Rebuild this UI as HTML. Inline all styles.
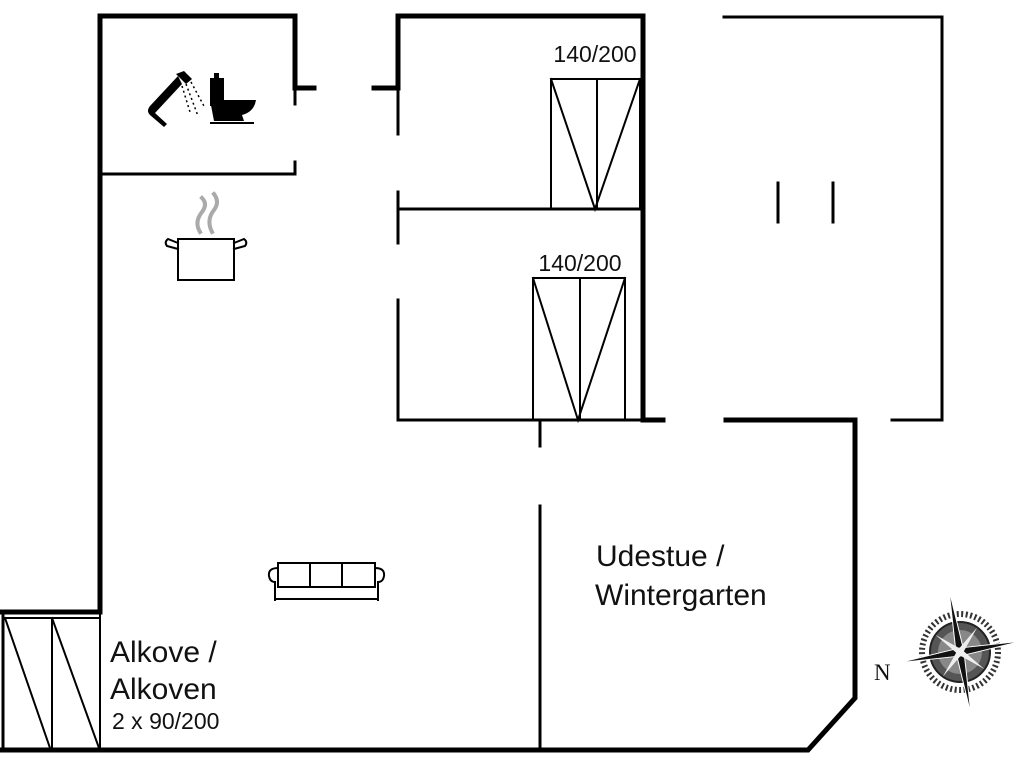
<!DOCTYPE html>
<html><head><meta charset="utf-8"><style>
html,body{margin:0;padding:0;background:#fff;}
svg{display:block;}
text{font-family:"Liberation Sans",sans-serif;fill:#111;}
</style></head><body>
<svg width="1024" height="768" viewBox="0 0 1024 768" xmlns="http://www.w3.org/2000/svg">
<g stroke="#000" fill="none" stroke-linecap="square">
<g stroke-width="5">
<polyline points="100,612 100,16 295,16 295,88 314,88"/>
<polyline points="374,88 398,88 398,16 643,16 643,420 663,420"/>
<polyline points="726,420 855,420 855,698 808,750 2,750"/>
<line x1="2" y1="612" x2="100" y2="612"/>
</g>
<g stroke-width="3">
<line x1="295" y1="88" x2="295" y2="104"/>
<polyline points="100,174 295,174 295,162"/>
<line x1="398" y1="88" x2="398" y2="134"/>
<line x1="398" y1="192" x2="398" y2="243"/>
<line x1="398" y1="209" x2="643" y2="209"/>
<line x1="398" y1="300" x2="398" y2="420"/>
<line x1="398" y1="420" x2="643" y2="420"/>
<polyline points="724,17 942,17 942,420 892,420"/>
<line x1="778" y1="183" x2="778" y2="222"/>
<line x1="833" y1="183" x2="833" y2="222"/>
<line x1="540" y1="420" x2="540" y2="446"/>
<line x1="540" y1="506" x2="540" y2="750"/>
<line x1="3" y1="612" x2="3" y2="750"/>
</g>
<g stroke-width="2">
<rect x="551" y="79" width="89" height="130"/>
<line x1="597" y1="79" x2="597" y2="209"/>
<polyline points="551,79 595,209 640,79"/>
<rect x="533" y="278" width="92" height="142"/>
<line x1="580" y1="278" x2="580" y2="420"/>
<polyline points="533,278 578,420 625,278"/>
<line x1="3" y1="618" x2="100" y2="618"/>
<line x1="52" y1="618" x2="52" y2="748"/>
<line x1="100" y1="612" x2="100" y2="748"/>
<line x1="5" y1="618" x2="50" y2="748"/>
<line x1="52" y1="618" x2="99" y2="748"/>
<rect x="278" y="563" width="97" height="24"/>
<line x1="310" y1="563" x2="310" y2="587"/>
<line x1="342" y1="563" x2="342" y2="587"/>
<path d="M278,568 q-10,0 -9,8 q1,6 6,6 v18 M375,568 q10,0 9,8 q-1,6 -6,6 v18 M275,599 h103"/>
<rect x="178" y="239" width="56" height="41"/>
<path d="M178,243 l-10,-4 q-4,3 -1,7 l11,3 M234,243 l10,-4 q4,3 1,7 l-11,3"/>
</g>
<path d="M200,232 q-6,-10 2,-20 q6,-8 0,-14 M212,232 q-6,-12 2,-22 q6,-8 0,-16" stroke="#aaa" stroke-width="4"/>
</g>
<g fill="#000">
<path d="M178,76 l-28,30 q-4,5 0,9 l14,12 l3,-3 l-12,-11 l27,-29 z"/>
<path d="M176,74 l8,-3 l8,8 l-6,5 z"/>
<rect x="210" y="78" width="14" height="28"/>
<rect x="214" y="73" width="5" height="6"/>
<path d="M210,100 h46 q-2,12 -14,15 l2,6 h-30 z"/>
<rect x="210" y="122" width="44" height="2"/>
</g>
<g stroke="#000" stroke-width="1.5" stroke-dasharray="2 3">
<line x1="186" y1="84" x2="198" y2="116"/><line x1="191" y1="82" x2="205" y2="108"/><line x1="182" y1="86" x2="190" y2="112"/>
</g>
<text x="595" y="62" font-size="23" text-anchor="middle">140/200</text>
<text x="580" y="271" font-size="23" text-anchor="middle">140/200</text>
<text x="596" y="566" font-size="30">Udestue /</text>
<text x="595" y="605" font-size="30">Wintergarten</text>
<text x="110" y="662" font-size="30">Alkove /</text>
<text x="110" y="699" font-size="30">Alkoven</text>
<text x="112" y="729" font-size="23">2 x 90/200</text>
<text x="874" y="680" font-size="23" style="font-family:'Liberation Serif',serif">N</text>
<g transform="translate(960,652)">
<circle r="38" fill="none" stroke="#333" stroke-width="6" stroke-dasharray="2 2.5"/>
<circle r="30" fill="#555" stroke="#222" stroke-width="2"/>
<circle r="22" fill="#888"/>
<g transform="rotate(-10)">
<polygon points="0,-64 4,0 0,64 -4,0" fill="#111" stroke="#fff" stroke-width="1"/>
<polygon points="-62,0 0,-4 62,0 0,4" fill="#111" stroke="#fff" stroke-width="1"/>
<g transform="rotate(45)">
<polygon points="0,-30 3,0 0,30 -3,0" fill="#eee"/>
<polygon points="-30,0 0,-3 30,0 0,3" fill="#eee"/>
</g>
</g>
</g>
</svg>
</body></html>
